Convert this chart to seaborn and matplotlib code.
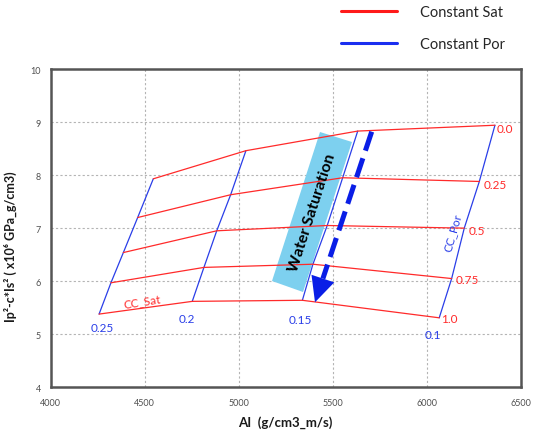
import numpy as np
import pandas as pd
import matplotlib
matplotlib.use("Agg")
import matplotlib.pyplot as plt
import seaborn as sns
from matplotlib.lines import Line2D
from matplotlib.patches import Polygon

# ---------------- data ----------------
porosity = [0.25, 0.20, 0.15, 0.10]
porosity_labels = ["0.25", "0.2", "0.15", "0.1"]
saturation = [0.0, 0.25, 0.5, 0.75, 1.0]
saturation_labels = ["0.0", "0.25", "0.5", "0.75", "1.0"]

# AI and Ip^2 - c*Is^2 for each porosity, ordered by saturation 0 -> 1
ai_por_025 = [4545, 4462, 4386, 4320, 4257]
ipis_por_025 = [7.93, 7.20, 6.54, 5.97, 5.38]
ai_por_020 = [5037, 4956, 4882, 4814, 4752]
ipis_por_020 = [8.46, 7.63, 6.95, 6.26, 5.62]
ai_por_015 = [5631, 5551, 5469, 5393, 5337]
ipis_por_015 = [8.83, 7.95, 7.05, 6.32, 5.64]
ai_por_010 = [6360, 6277, 6197, 6130, 6064]
ipis_por_010 = [8.94, 7.88, 7.00, 6.05, 5.31]

x_ticks = [4000, 4500, 5000, 5500, 6000, 6500]
y_ticks = [4, 5, 6, 7, 8, 9, 10]

ai_sets = [ai_por_025, ai_por_020, ai_por_015, ai_por_010]
ipis_sets = [ipis_por_025, ipis_por_020, ipis_por_015, ipis_por_010]
rows = []
for phi, ais, ys in zip(porosity, ai_sets, ipis_sets):
    for sw, a, v in zip(saturation, ais, ys):
        rows.append({"phi": phi, "sw": sw, "ai": a, "ipis": v})
df = pd.DataFrame(rows)

# ---------------- style ----------------
sns.set_style("white")
plt.rcParams['font.family'] = ['Lato', 'DejaVu Sans']

RED = "#ff2a2a"
BLUE = "#2a3ee8"

fig = plt.figure(figsize=(5.37, 4.35), dpi=100)
# frame measured in pixels: left 50.7, right 521.3, top 70, bottom 388.3
FL, FR, FT, FB = 50.7, 521.3, 70.0, 388.3
ax = fig.add_axes([FL / 537, 1 - FB / 435, (FR - FL) / 537, (FB - FT) / 435])

def px2ax(px, py):
    return ((px - FL) / (FR - FL), (FB - py) / (FB - FT))

# constant porosity (blue)
sns.lineplot(data=df.sort_values(["phi", "sw"]), x="ai", y="ipis", units="phi",
             estimator=None, sort=False, color=BLUE, linewidth=0.9, ax=ax,
             legend=False)
# constant saturation (red)
sns.lineplot(data=df.sort_values(["sw", "ai"]), x="ai", y="ipis", units="sw",
             estimator=None, sort=False, color=RED, linewidth=0.9, ax=ax,
             legend=False)

ax.set_xlim(x_ticks[0], x_ticks[-1])
ax.set_ylim(y_ticks[0], y_ticks[-1])
ax.set_xticks(x_ticks)
ax.set_yticks(y_ticks)
ax.set_xticklabels([str(t) for t in x_ticks])
ax.set_yticklabels([str(t) for t in y_ticks])
ax.tick_params(length=0, labelsize=6.5, labelcolor="#505050")
ax.tick_params(axis="x", pad=7.5)
ax.tick_params(axis="y", pad=7)
ax.grid(True, linestyle=(0, (2, 2)), color="#b4b4b4", linewidth=0.8)
for s in ax.spines.values():
    s.set_color("#555555")
    s.set_linewidth(1.8)
    s.set_visible(True)

ax.set_xlabel("AI  (g/cm3_m/s)", fontsize=9.5, fontweight="bold", color="#1a1a1a")
ax.set_ylabel("Ip\u00b2-c*Is\u00b2 ( x10\u2076 GPa_g/cm3)", fontsize=9,
              fontweight="bold", color="#1a1a1a")
ax.xaxis.set_label_coords(*px2ax(285.5, 416.5))
ax.yaxis.set_label_coords(*px2ax(17, 246.5))

# saturation labels at the right end (porosity 0.10 curve)
sw_offsets = [(1.2, -2.4), (3.4, -2.4), (3.4, -1.7), (3.1, -1.0), (1.0, -0.6)]
for lab, a, v, off in zip(saturation_labels, ai_por_010, ipis_por_010, sw_offsets):
    ax.annotate(lab, (a, v), xytext=off, textcoords="offset points",
                ha="left", va="center", color=RED, fontsize=8.5)

# porosity labels below the saturation = 1 points
por_offsets = [(2.5, -10), (-4, -12.2), (-1.7, -13.5), (-4.5, -12)]
for lab, ais, ys, off in zip(porosity_labels, ai_sets, ipis_sets, por_offsets):
    ax.annotate(lab, (ais[-1], ys[-1]), xytext=off, textcoords="offset points",
                ha="center", va="center", color=BLUE, fontsize=8.5)

ax.text(*px2ax(142.5, 302), "CC_Sat", transform=ax.transAxes, color=RED,
        fontsize=8.5, rotation=9, ha="center", va="center")
ax.text(*px2ax(453, 233), "CC_Por", transform=ax.transAxes, color=BLUE,
        fontsize=8.5, rotation=74, ha="center", va="center")

# Water saturation box
box = [px2ax(320, 133), px2ax(352, 143), px2ax(303, 293), px2ax(272, 282)]
ax.add_patch(Polygon(box, closed=True, transform=ax.transAxes,
                     facecolor="#7dd0ef", edgecolor="none", zorder=1.5))
ax.text(*px2ax(312, 213), "Water Saturation", transform=ax.transAxes,
        rotation=72, rotation_mode="anchor", ha="center", va="center",
        fontsize=11.5, fontweight="bold", color="black", zorder=5)

# dashed blue arrow
tip = np.array([315.0, 303.3])
start = np.array([371.7, 132.7])
u = (tip - start) / np.linalg.norm(tip - start)
perp = np.array([-u[1], u[0]])
base = tip - 25 * u
c1 = base + 12 * perp
c2 = base - 12 * perp
sx, sy = px2ax(*start)
bx, by = px2ax(*base)
ax.plot([sx, bx], [sy, by], transform=ax.transAxes, color="#0a1ee6",
        linewidth=3.6, linestyle=(0, (4, 1.6)), solid_capstyle="butt",
        dash_capstyle="butt", zorder=6)
ax.add_patch(Polygon([px2ax(*tip), px2ax(*c1), px2ax(*c2)], closed=True,
                     transform=ax.transAxes, facecolor="#0a1ee6",
                     edgecolor="none", zorder=6))

# legend
handles = [Line2D([], [], color="#ff1a1a", linewidth=2.2),
           Line2D([], [], color="#1a2ef0", linewidth=2.2)]
fig.legend(handles, ["Constant Sat", "Constant Por"], loc="upper left",
           bbox_to_anchor=(341.4 / 537, 1 - 6 / 435), frameon=False,
           handlelength=3.8, handletextpad=1.6, labelspacing=1.25,
           fontsize=10.5, borderpad=0, borderaxespad=0)

fig.savefig("out.png", dpi=100)
